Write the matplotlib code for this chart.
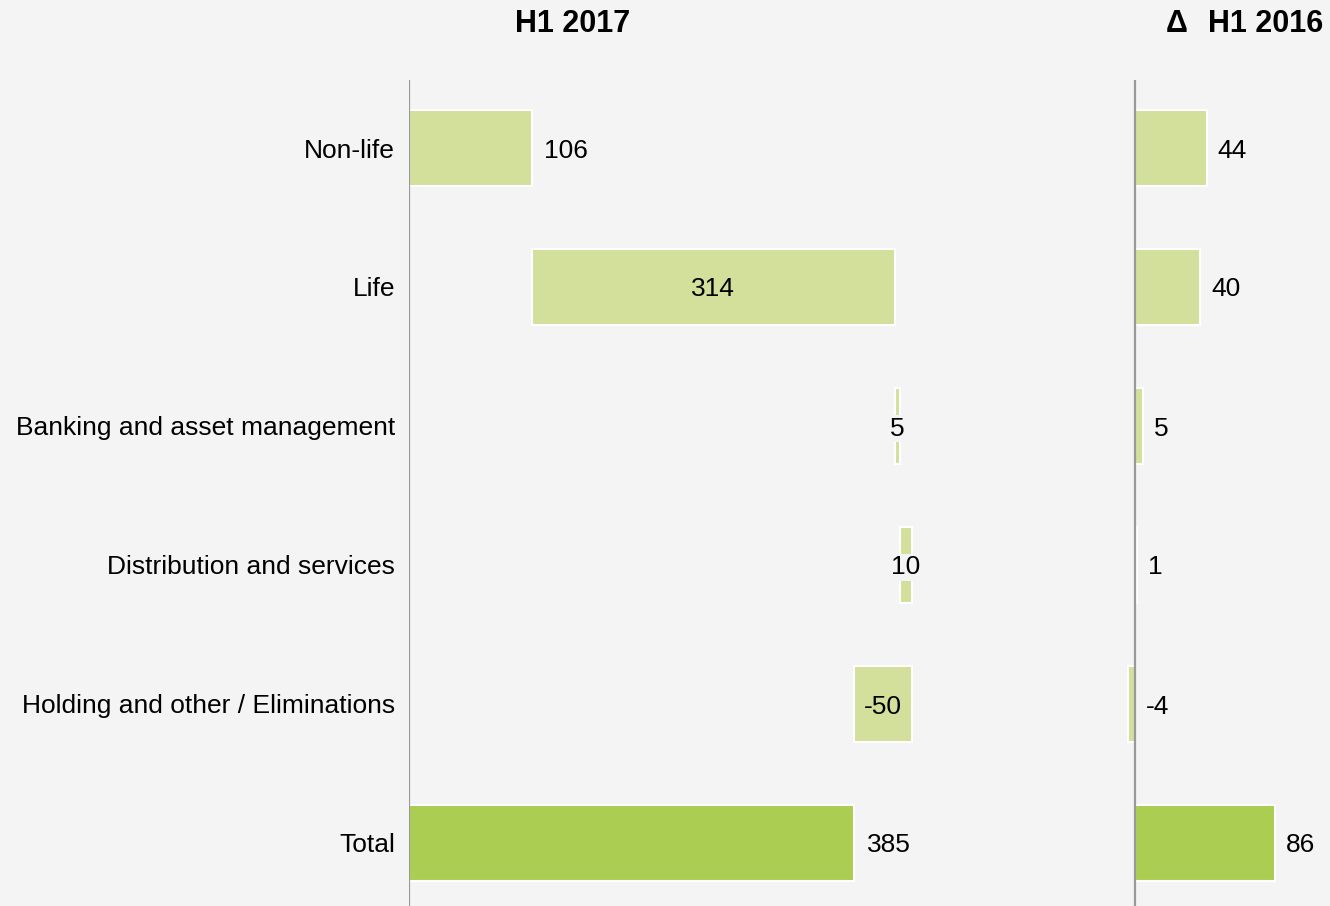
import matplotlib
matplotlib.use("Agg")
import matplotlib.pyplot as plt
import numpy as np

plt.rcParams['font.family'] = ['Liberation Sans', 'DejaVu Sans']

categories = ["Non-life", "Life", "Banking and asset management",
              "Distribution and services", "Holding and other / Eliminations", "Total"]
h1_2017 = [106, 314, 5, 10, -50, 385]
delta_h1_2016 = [44, 40, 5, 1, -4, 86]
label_pos_2017 = ["out", "in", "in", "in", "in", "out"]

BG = "#f4f4f4"
LIGHT = "#d2e09b"
TOTAL = "#aacd52"
AXC = "#999999"
FS = 19
TFS = 22

W, H = 1330, 906
fig = plt.figure(figsize=(W / 100, H / 100), dpi=100, facecolor=BG)

n = len(categories)
y = np.arange(n)
ylim = (n - 1 + 63 / 139, -68 / 139)
bar_h = 0.54
colors = [LIGHT] * (n - 1) + [TOTAL]

# Left panel (waterfall)
scale_l = 1.156  # px per unit
axl_left, axl_right = 409, 1100
axl = fig.add_axes([axl_left / W, 0, (axl_right - axl_left) / W, (H - 80) / H])
axl.set_facecolor(BG)
axl.set_xlim(0, (axl_right - axl_left) / scale_l)
axl.set_ylim(*ylim)

starts = []
cum = 0
for i, v in enumerate(h1_2017):
    if i == n - 1:
        starts.append(0)
    else:
        starts.append(cum)
        cum += v
axl.barh(y, h1_2017, left=starts, height=bar_h, color=colors,
         edgecolor="white", linewidth=1.5, zorder=2)
axl.axvline(0, color=AXC, lw=1.6, zorder=3)

for i, (v, s, pos) in enumerate(zip(h1_2017, starts, label_pos_2017)):
    end = s + v
    if pos == "out":
        axl.annotate(str(v), (max(s, end), i), xytext=(9, 0), textcoords="offset points",
                     ha="left", va="center_baseline", fontsize=FS, zorder=4)
    else:
        axl.text(s + v / 2, i, str(v), ha="center", va="center_baseline", fontsize=FS, zorder=4,
                 bbox=dict(facecolor=BG if abs(v) < 20 else "none", edgecolor="none", pad=1.0))

axl.set_yticks(y)
axl.set_yticklabels(categories, fontsize=FS)
axl.tick_params(axis="y", length=0, pad=10)
axl.set_xticks([])
for sp in axl.spines.values():
    sp.set_visible(False)

# Right panel
scale_r = 1.628
axr_left, axr_right = 1115, 1330
zero_px = 1135
axr = fig.add_axes([axr_left / W, 0, (axr_right - axr_left) / W, (H - 80) / H])
axr.set_facecolor(BG)
axr.set_xlim(-(zero_px - axr_left) / scale_r, (axr_right - zero_px) / scale_r)
axr.set_ylim(*ylim)
axr.barh(y, delta_h1_2016, height=bar_h, color=colors, edgecolor="white", linewidth=1.5, zorder=2)
axr.axvline(0, color=AXC, lw=1.6, zorder=3)
for i, v in enumerate(delta_h1_2016):
    axr.annotate(str(v), (max(v, 0), i), xytext=(8, 0), textcoords="offset points",
                 ha="left", va="center_baseline", fontsize=FS, zorder=4)
axr.set_xticks([])
axr.set_yticks([])
for sp in axr.spines.values():
    sp.set_visible(False)

# Titles
fig.text(573 / W, 1 - 24 / H, "H1 2017", ha="center", va="center", fontsize=TFS, fontweight="bold")
fig.text(1208 / W, 1 - 24 / H, "H1 2016", ha="left", va="center", fontsize=TFS, fontweight="bold")
fig.text(1177 / W, 1 - 24 / H, "Δ", ha="center", va="center", fontsize=TFS, fontweight="bold")

fig.savefig("out.png", dpi=100, facecolor=BG)
